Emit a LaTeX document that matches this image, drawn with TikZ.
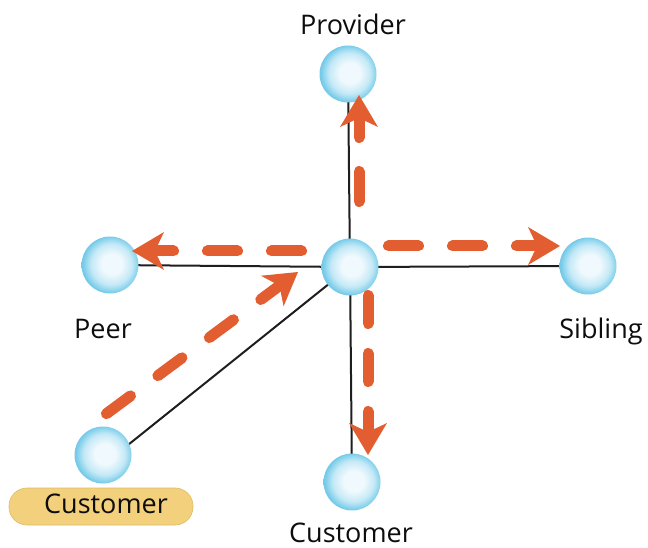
\documentclass[tikz,border=0pt]{standalone}
\usepackage{fontspec}
\setmainfont{Open Sans}
\usetikzlibrary{arrows.meta,backgrounds}
\definecolor{arrowc}{RGB}{226,94,48}
\definecolor{linec}{RGB}{30,30,30}
\definecolor{sphA}{RGB}{240,249,253}
\definecolor{sphB}{RGB}{196,233,246}
\definecolor{sphC}{RGB}{140,212,237}
\definecolor{sphD}{RGB}{118,202,232}
\definecolor{pill}{RGB}{243,209,124}
\definecolor{pilledge}{RGB}{222,186,100}
\pgfdeclareradialshading{sphere}{\pgfpoint{2bp}{1bp}}{color(0bp)=(sphA); color(9bp)=(sphA); color(18bp)=(sphB); color(23bp)=(sphC); color(25bp)=(sphD); color(50bp)=(sphD)}
\tikzset{
  ball/.style={circle, minimum size=57pt, inner sep=0pt, shading=sphere},
  link/.style={line width=2pt, draw=linec},
  flowtip/.tip={Stealth[length=32pt, width=38pt, inset=9pt, line width=0pt]},
  flow/.style={line width=11pt, draw=arrowc, line cap=round, dash pattern=on 30pt off 34pt, -flowtip},
  lbl/.style={font=\fontsize{27}{30}\selectfont, text=black!95, anchor=base, inner sep=0pt},
}
\begin{document}
\begin{tikzpicture}[x=1pt, y=-1pt]
\useasboundingbox (0,0) rectangle (648,548);
% nodes
\node[ball] (c) at (350,267) {};
\node[ball] (prov) at (348,74) {};
\node[ball] (peer) at (110,265) {};
\node[ball] (sib) at (588,266) {};
\node[ball] (cust) at (352,482) {};
\node[ball] (bl) at (103,455) {};
% links behind nodes
\begin{scope}[on background layer]
  \draw[link] (c.center) -- (prov.center);
  \draw[link] (c.center) -- (peer.center);
  \draw[link] (c.center) -- (sib.center);
  \draw[link] (c.center) -- (cust.center);
  \draw[link] (c.center) -- ([yshift=-10pt]bl.center);
\end{scope}
% labels
\node[lbl] (lprov) at (353,35) {Provider};
\node[lbl] (lpeer) at (103,338) {Peer};
\node[lbl] (lsib) at (601,338) {Sibling};
\node[lbl] (lcust) at (351,542) {Customer};
\node[draw=pilledge, line width=0.6pt, fill=pill, rounded corners=18pt, minimum width=184pt, minimum height=37pt, inner sep=0pt] (pillbox) at (101,506.5) {};
\node[lbl] (lbl2) at (106,513) {Customer};
% arrow end points
\coordinate (rs) at (388.5,246); \coordinate (re) at (560,246);
\coordinate (ls) at (301.5,251); \coordinate (le) at (132,251);
\coordinate (us) at (359,201.5); \coordinate (ue) at (359,95);
\coordinate (ds) at (368,295.5); \coordinate (de) at (368,455);
\coordinate (gs) at (106.4,413.7); \coordinate (ge) at (298,272);
\draw[flow] (rs) -- (re);
\draw[flow] (ls) -- (le);
\draw[flow] (us) -- (ue);
\draw[flow, dash pattern=on 28pt off 30pt] (ds) -- (de);
\draw[flow] (gs) -- (ge);
\end{tikzpicture}
\end{document}
